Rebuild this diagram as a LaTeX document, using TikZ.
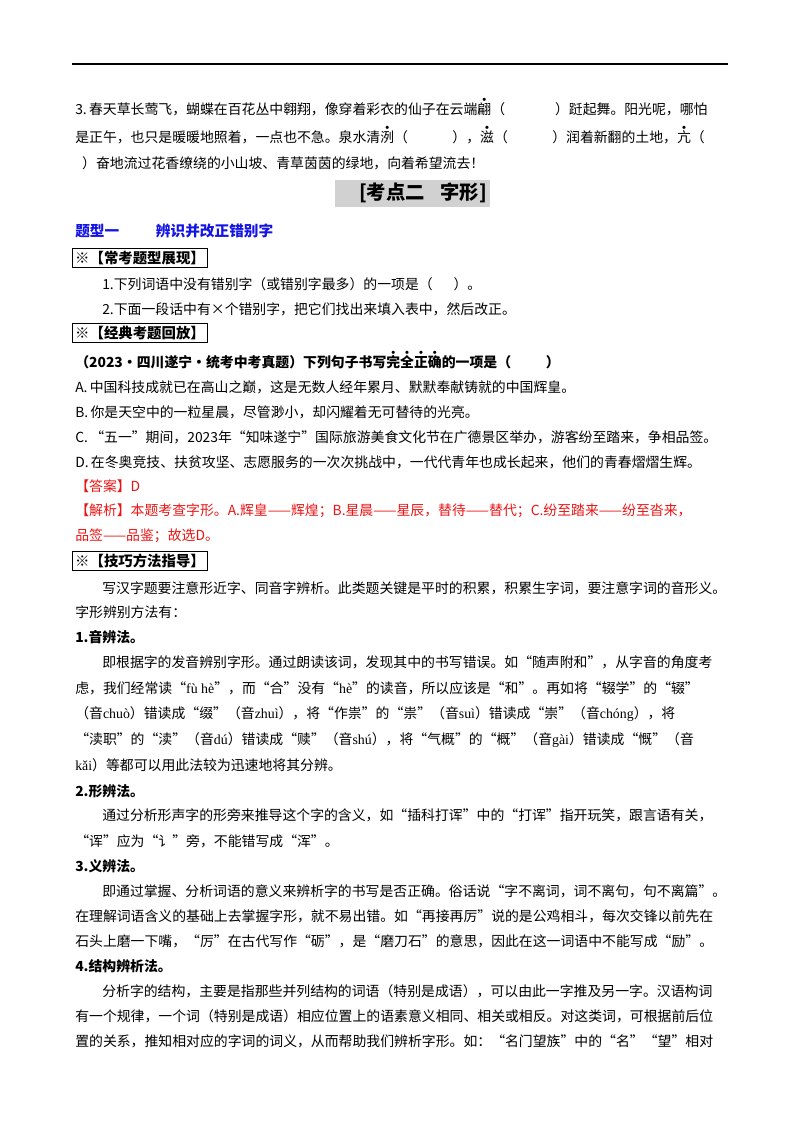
\documentclass[tikz,border=0pt]{standalone}
\usepackage{fontspec}
\setmainfont{Noto Sans CJK SC}
\newfontfamily\lat{Liberation Serif}
\newcommand{\dotab}[1]{\leavevmode\rlap{\makebox[1em]{\raisebox{0.95em}{\tiny$\bullet$}}}#1}
\definecolor{myblue}{RGB}{20,20,230}
\definecolor{myred}{RGB}{235,20,20}
\tikzset{
  ln/.style={anchor=west,inner sep=0pt,font=\fontsize{10.4}{12}\selectfont},
  hd/.style={anchor=west,inner sep=2pt,draw,line width=0.8pt,font=\fontsize{10.8}{12}\selectfont\bfseries},
  bd/.style={anchor=west,inner sep=0pt,font=\fontsize{10.4}{12}\selectfont\bfseries}
}
\begin{document}
\begin{tikzpicture}[x=0.75pt,y=-0.75pt]
\useasboundingbox (0,0) rectangle (800,1132);
\draw[line width=0.8pt] (72,64) -- (728,64);
\node[ln] (l1) at (75,107) {3.\,春天草长莺飞，蝴蝶在百花丛中翱翔，像穿着彩衣的仙子在云端\dotab{翩}（\hspace{3.6em}）跹起舞。阳光呢，哪怕};
\node[ln] (l2) at (75,135) {是正午，也只是暖暖地照着，一点也不急。泉水清\dotab{洌}（\hspace{3.2em}），\dotab{滋}（\hspace{3.2em}）润着新翻的土地，\dotab{亢}（};
\node[ln] (l3) at (75,163) {\hspace{0.5em}）奋地流过花香缭绕的小山坡、青草茵茵的绿地，向着希望流去！};
\fill[black!18] (335,180) rectangle (490,207);
\node[inner sep=0pt,font=\fontsize{14.5}{16}\selectfont\bfseries] (kd) at (423,193) {[考点二\hspace{0.8em}字形]};
\node[ln,font=\fontsize{11}{13}\selectfont\bfseries,text=myblue] (tx) at (75,231) {题型一\hspace{2.5em}辨识并改正错别字};
\node[hd] (h1) at (72,258) {※【常考题型展现】};
\node[ln] (q1) at (102,284) {1.下列词语中没有错别字（或错别字最多）的一项是（\hspace{1.5em}）。};
\node[ln] (q2) at (102,309) {2.下面一段话中有×个错别字，把它们找出来填入表中，然后改正。};
\node[hd] (h2) at (72,333) {※【经典考题回放】};
\node[bd] (ex) at (75,360) {（2023·四川遂宁·统考中考真题）下列句子书写\dotab{完}\dotab{全}\dotab{正}\dotab{确}的一项是（\hspace{2.5em}）};
\node[ln] (a) at (75,387) {A.\,中国科技成就已在高山之巅，这是无数人经年累月、默默奉献铸就的中国辉皇。};
\node[ln] (b) at (75,412) {B.\,你是天空中的一粒星晨，尽管渺小，却闪耀着无可替待的光亮。};
\node[ln] (c) at (75,437) {C.\,“五一”期间，2023年“知味遂宁”国际旅游美食文化节在广德景区举办，游客纷至踏来，争相品签。};
\node[ln] (d) at (75,462) {D.\,在冬奥竞技、扶贫攻坚、志愿服务的一次次挑战中，一代代青年也成长起来，他们的青春熠熠生辉。};
\node[ln,text=myred] (ans) at (75,486) {【答案】D};
\node[ln,text=myred] (jx1) at (75,511) {【解析】本题考查字形。A.辉皇——辉煌；B.星晨——星辰，替待——替代；C.纷至踏来——纷至沓来，};
\node[ln,text=myred] (jx2) at (75,536) {品签——品鉴；故选D。};
\node[hd] (h3) at (72,561) {※【技巧方法指导】};
\node[ln] (p1) at (102,588) {写汉字题要注意形近字、同音字辨析。此类题关键是平时的积累，积累生字词，要注意字词的音形义。};
\node[ln] (p2) at (75,612) {字形辨别方法有：};
\node[bd] (s1) at (75,637) {1.音辨法。};
\node[ln] (y1) at (102,662) {即根据字的发音辨别字形。通过朗读该词，发现其中的书写错误。如“随声附和”，从字音的角度考};
\node[ln] (y2) at (75,688) {虑，我们经常读“{\lat fù hè}”，而“合”没有“{\lat hè}”的读音，所以应该是“和”。再如将“辍学”的“辍”};
\node[ln] (y3) at (75,714) {（音{\lat chuò}）错读成“缀”（音{\lat zhuì}），将“作祟”的“祟”（音{\lat suì}）错读成“崇”（音{\lat chóng}），将};
\node[ln] (y4) at (75,740) {“渎职”的“渎”（音{\lat dú}）错读成“赎”（音{\lat shú}），将“气概”的“概”（音{\lat gài}）错读成“慨”（音};
\node[ln] (y5) at (75,765) {{\lat kǎi}）等都可以用此法较为迅速地将其分辨。};
\node[bd] (s2) at (75,791) {2.形辨法。};
\node[ln] (x1) at (102,815) {通过分析形声字的形旁来推导这个字的含义，如“插科打诨”中的“打诨”指开玩笑，跟言语有关，};
\node[ln] (x2) at (75,841) {“诨”应为“讠”旁，不能错写成“浑”。};
\node[bd] (s3) at (75,866) {3.义辨法。};
\node[ln] (v1) at (102,891) {即通过掌握、分析词语的意义来辨析字的书写是否正确。俗话说“字不离词，词不离句，句不离篇”。};
\node[ln] (v2) at (75,916) {在理解词语含义的基础上去掌握字形，就不易出错。如“再接再厉”说的是公鸡相斗，每次交锋以前先在};
\node[ln] (v3) at (75,941) {石头上磨一下嘴，“厉”在古代写作“砺”，是“磨刀石”的意思，因此在这一词语中不能写成“励”。};
\node[bd] (s4) at (75,966) {4.结构辨析法。};
\node[ln] (w1) at (102,991) {分析字的结构，主要是指那些并列结构的词语（特别是成语），可以由此一字推及另一字。汉语构词};
\node[ln] (w2) at (75,1016) {有一个规律，一个词（特别是成语）相应位置上的语素意义相同、相关或相反。对这类词，可根据前后位};
\node[ln] (w3) at (75,1041) {置的关系，推知相对应的字词的词义，从而帮助我们辨析字形。如：“名门望族”中的“名”“望”相对};
\end{tikzpicture}
\end{document}
